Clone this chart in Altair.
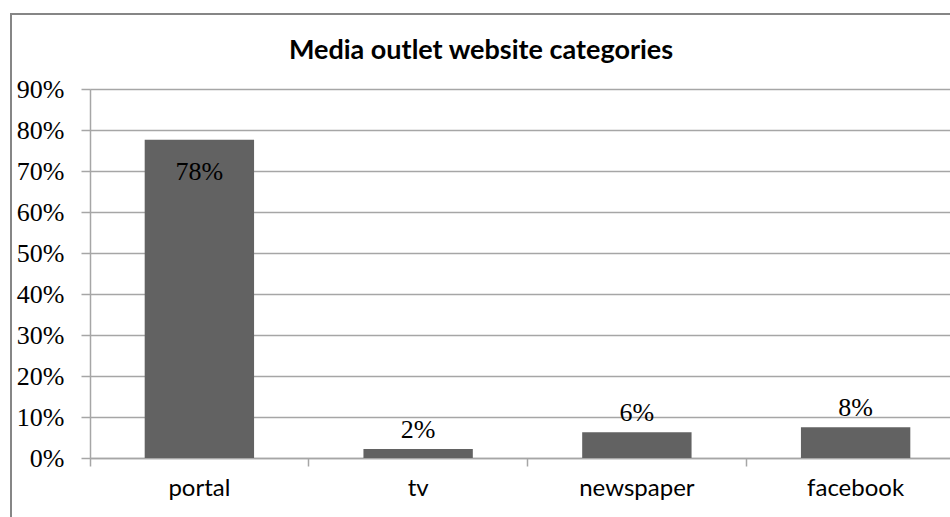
import altair as alt
import pandas as pd

categories = ["portal", "tv", "newspaper", "facebook"]
values = [0.776, 0.022, 0.063, 0.075]
labels = ["78%", "2%", "6%", "8%"]

df = pd.DataFrame({"cat": categories, "val": values, "lab": labels})

BAR = "#626262"
GRID = "#a6a6a6"
SERIF = "Times New Roman"

x = alt.X("cat:N", sort=categories, title=None,
          scale=alt.Scale(domain=categories, range=[0, 875], paddingInner=0, paddingOuter=0),
          axis=alt.Axis(labelAngle=0, labelFont="Lato", labelFontSize=24, labelColor="#000000",
                        labelPadding=10, tickColor=GRID, tickWidth=1.5, tickSize=8,
                        domainColor=GRID, domainWidth=1.5, bandPosition=0, grid=False))
y = alt.Y("val:Q", title=None,
          scale=alt.Scale(domain=[0, 0.9], nice=False),
          axis=alt.Axis(format=".0%", values=[0, 0.1, 0.2, 0.3, 0.4, 0.5, 0.6, 0.7, 0.8, 0.9],
                        labelFont=SERIF, labelFontSize=26, labelColor="#000000",
                        labelPadding=17, tickColor=GRID, tickWidth=1.5, tickSize=9,
                        domainColor=GRID, domainWidth=1.5, gridColor=GRID, gridWidth=1.5,
                        gridOpacity=1))

bars = alt.Chart(df).mark_bar(color=BAR, width=alt.RelativeBandSize(0.5)).encode(x=x, y=y)

lab_out = alt.Chart(df).transform_filter("datum.val < 0.5").mark_text(
    font=SERIF, fontSize=26, color="#000000", baseline="alphabetic", dy=-11
).encode(x=alt.X("cat:N", sort=categories), y="val:Q", text="lab:N")

lab_in = alt.Chart(df).transform_filter("datum.val >= 0.5").mark_text(
    font=SERIF, fontSize=26, color="#000000", baseline="alphabetic", dy=40
).encode(x=alt.X("cat:N", sort=categories), y="val:Q", text="lab:N")

frame = alt.Chart(df).mark_rect(fill=None, stroke="#868686", strokeWidth=2).encode(
    x=alt.value(-79), x2=alt.value(900), y=alt.value(-75), y2=alt.value(700)
).transform_filter("datum.cat == 'portal'")

chart = alt.layer(frame, bars, lab_out, lab_in).properties(
    width=860, height=369,
    autosize=alt.AutoSizeParams(type="none"),
    padding={"left": 90, "top": 89, "right": 0, "bottom": 59},
    title=alt.TitleParams("Media outlet website categories", font="Lato", fontSize=27,
                          fontWeight="bold", color="#000000", anchor="middle", dx=-39,
                          baseline="alphabetic", offset=-73),
).configure_view(stroke=None).configure(background="white")

chart.save("out.html", embed_options={"renderer": "svg", "actions": False})
